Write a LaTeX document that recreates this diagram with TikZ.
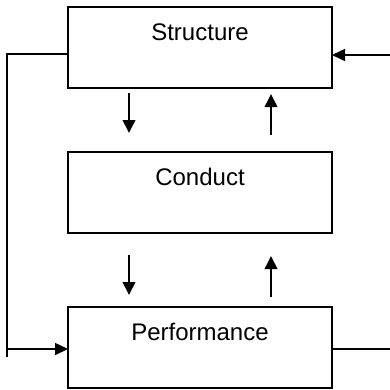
\documentclass[tikz,border=0pt]{standalone}
\usepackage{fontspec}
\setmainfont{Liberation Sans}
\usetikzlibrary{positioning, arrows.meta}
\tikzset {
    x=1pt, y=1pt,
    block/.style={draw, line width=1.5pt, minimum width=264pt, inner ysep=0pt, outer sep=0pt,
                  text height=33pt, text depth=48pt, font=\fontsize{24}{28}\selectfont},
    flow/.style={line width=2pt, -{Triangle[length=13pt, width=12.5pt]}},
    link/.style={line width=1.5pt}
}

\begin{document}
\begin{tikzpicture}
    \useasboundingbox (0,0) rectangle (390,-389);

    \node[block, anchor=north] (st) at (200,-7) {Structure};
    \node[block, below=64pt of st] (co) {Conduct};
    \node[block, below=74pt of co] (pf) {Performance};

    \path ([yshift=-6.5pt]st.west) ++(-61,0) coordinate (lt);
    \path ([yshift=-1.5pt]pf.west) ++(-61,0) coordinate (lb) ++(0,-8) coordinate (le);
    \path ([yshift=-7.5pt]st.east) ++(58,0) coordinate (rt);
    \path ([yshift=-1.5pt]pf.east) ++(58,0) coordinate (rb);

    % feedback loop
    \draw[link] ([yshift=-6.5pt]st.west) -- (lt) -- (le);
    \draw[link, -{Triangle[length=13pt, width=12pt]}] (lb) -- ([yshift=-1.5pt]pf.west);
    \draw[link, -{Triangle[length=13pt, width=12pt]}] (rt) -- ([yshift=-7.5pt]st.east);
    \draw[link] ([yshift=-1.5pt]pf.east) -- (rb);

    % between the blocks
    \draw[flow, shorten <=5pt, shorten >=19pt] ([xshift=-71pt]st.south) -- ([xshift=-71pt]co.north);
    \draw[flow, shorten <=17pt, shorten >=6pt] ([xshift=71pt]co.north) -- ([xshift=71pt]st.south);
    \draw[flow, shorten <=22pt, shorten >=12pt] ([xshift=-71pt]co.south) -- ([xshift=-71pt]pf.north);
    \draw[flow, shorten <=10pt, shorten >=23pt] ([xshift=71pt]pf.north) -- ([xshift=71pt]co.south);
\end{tikzpicture}
\end{document}
